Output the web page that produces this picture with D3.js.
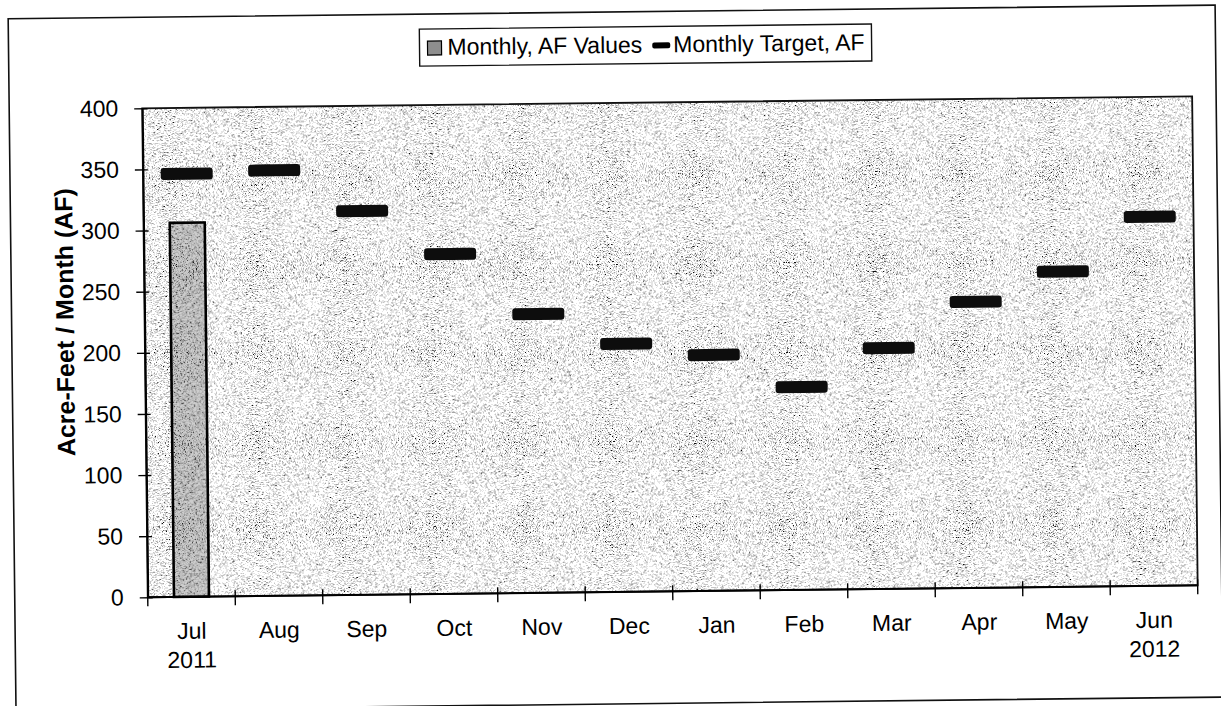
<!DOCTYPE html>
<html><head><meta charset="utf-8">
<script src="https://cdn.jsdelivr.net/npm/d3@7"></script>
<style>
html,body{margin:0;padding:0;background:#fff;}
svg{display:block;}
text{font-family:"Liberation Sans",Arial,sans-serif;fill:#000;}
</style>
</head><body>
<svg id="c" width="1221" height="706"></svg>
<script>
const months = ["Jul","Aug","Sep","Oct","Nov","Dec","Jan","Feb","Mar","Apr","May","Jun"];
const yearLabels = ["2011","","","","","","","","","","","2012"];
const actualAF = [306, null, null, null, null, null, null, null, null, null, null, null];
const targetAF = [346, 348, 314, 278, 228, 203, 193, 166, 197, 234, 258, 302];
const yTicks = [0,50,100,150,200,250,300,350,400];
const legendLabels = ["Monthly, AF Values","Monthly Target, AF"];
const yTitle = "Acre-Feet / Month (AF)";

const svg = d3.select("#c");
const defs = svg.append("defs");

function speckle(id, table, seed, freq){
  const f = defs.append("filter").attr("id",id)
    .attr("x",0).attr("y",0).attr("width","100%").attr("height","100%")
    .attr("color-interpolation-filters","sRGB");
  f.append("feTurbulence").attr("type","fractalNoise").attr("baseFrequency",freq)
    .attr("numOctaves",1).attr("seed",seed).attr("result","n");
  f.append("feColorMatrix").attr("in","n").attr("type","matrix")
    .attr("values","1 0 0 0 0  1 0 0 0 0  1 0 0 0 0  0 0 0 0 1").attr("result","g");
  const ct = f.append("feComponentTransfer").attr("in","g");
  ["feFuncR","feFuncG","feFuncB"].forEach(k=>ct.append(k).attr("type","discrete").attr("tableValues",table));
}
speckle("bgSpeckle","0.05 0.05 0.05 0.05 0.05 0.05 0.4 0.65 0.78 0.9 1 1 1 1 1 1 1 1 1 1",7,1.3);
speckle("barSpeckle","0.05 0.05 0.05 0.05 0.05 0.1 0.3 0.45 0.6 0.7 0.75 0.8 0.8 0.8 0.8 0.8 0.8 0.8 0.8 0.8",3,1.3);

const plotL = 145, plotR = 1195, plotT = 103, plotB = 592;
const x = d3.scaleBand().domain(months).range([plotL, plotR]).paddingInner(0).paddingOuter(0);
const y = d3.scaleLinear().domain([0,400]).range([plotB, plotT]);

const g = svg.append("g").attr("transform","rotate(-0.65 610 353)");

// outer chart border
g.append("rect").attr("x",12).attr("y",12).attr("width",1207).attr("height",692)
  .attr("fill","#fff").attr("stroke","#111").attr("stroke-width",1.6);

// plot area
g.append("rect").attr("x",plotL).attr("y",plotT).attr("width",plotR-plotL).attr("height",plotB-plotT)
  .attr("fill","#cccccc").attr("filter","url(#bgSpeckle)");
g.append("rect").attr("x",plotL).attr("y",plotT).attr("width",plotR-plotL).attr("height",plotB-plotT)
  .attr("fill","none").attr("stroke","#111").attr("stroke-width",1.8);

// bars
const bw = x.bandwidth()*0.4;
const barData = months.map((m,i)=>({m, v:actualAF[i]})).filter(d=>d.v!=null);
barData.forEach(d=>{
  g.append("rect").attr("x",x(d.m)+(x.bandwidth()-bw)/2).attr("y",y(d.v))
    .attr("width",bw).attr("height",y(0)-y(d.v))
    .attr("fill","#8e8e8e").attr("filter","url(#barSpeckle)");
  g.append("rect").attr("x",x(d.m)+(x.bandwidth()-bw)/2).attr("y",y(d.v))
    .attr("width",bw).attr("height",y(0)-y(d.v))
    .attr("fill","none").attr("stroke","#000").attr("stroke-width",2.6);
});

// target dashes
g.selectAll("rect.dash").data(months.map((m,i)=>({m, v:targetAF[i]}))).join("rect")
  .attr("class","dash")
  .attr("x",d=>x(d.m)+x.bandwidth()/2-26).attr("y",d=>y(d.v)-6)
  .attr("width",52).attr("height",12).attr("rx",3)
  .attr("fill","#0d0d0d");

// y axis
const yAxis = g.append("g").attr("transform",`translate(${plotL},0)`)
  .call(d3.axisLeft(y).tickValues(yTicks).tickSizeInner(8).tickSizeOuter(0).tickPadding(16));
yAxis.select(".domain").attr("stroke","#000").attr("stroke-width",2);
yAxis.selectAll(".tick line").attr("x1",5).attr("stroke","#000").attr("stroke-width",1.4);
yAxis.selectAll(".tick text").attr("font-size",23).attr("font-family","Liberation Sans, Arial, sans-serif");

// x axis
g.append("line").attr("x1",plotL).attr("x2",plotR).attr("y1",plotB).attr("y2",plotB)
  .attr("stroke","#000").attr("stroke-width",2);
const bounds = d3.range(months.length+1).map(i=>plotL + i*x.step());
g.selectAll("line.xt").data(bounds).join("line").attr("class","xt")
  .attr("x1",d=>d).attr("x2",d=>d).attr("y1",plotB-6).attr("y2",plotB+9)
  .attr("stroke","#000").attr("stroke-width",1.4);
const xl = g.selectAll("text.xl").data(months.map((m,i)=>({m, yr:yearLabels[i]}))).join("text")
  .attr("class","xl").attr("text-anchor","middle").attr("font-size",23)
  .attr("x",d=>x(d.m)+x.bandwidth()/2).attr("y",plotB+42);
xl.append("tspan").text(d=>d.m);
xl.filter(d=>d.yr).append("tspan").attr("x",d=>x(d.m)+x.bandwidth()/2).attr("dy",29).text(d=>d.yr);

// y title
g.append("text").attr("transform","translate(74,316) rotate(-90)").attr("text-anchor","middle")
  .attr("font-size",25).attr("font-weight","bold").text(yTitle);

// legend
const lg = g.append("g").attr("transform","translate(423,27)");
const lbox = lg.append("rect").attr("x",0).attr("y",0).attr("height",37)
  .attr("fill","#fff").attr("stroke","#111").attr("stroke-width",1.4);
lg.append("rect").attr("x",8).attr("y",12).attr("width",14).attr("height",14)
  .attr("fill","#8e8e8e").attr("stroke","#000").attr("stroke-width",1.2);
const t1 = lg.append("text").attr("x",28).attr("y",26).attr("font-size",23).text(legendLabels[0]);
const w1 = t1.node().getComputedTextLength();
const dx = 28 + w1 + 10;
lg.append("rect").attr("x",dx).attr("y",16).attr("width",18).attr("height",6).attr("rx",2).attr("fill","#000");
const t2 = lg.append("text").attr("x",dx+21).attr("y",26).attr("font-size",23).text(legendLabels[1]);
const w2 = t2.node().getComputedTextLength();
lbox.attr("width",dx+21+w2+7);
</script>
</body></html>
